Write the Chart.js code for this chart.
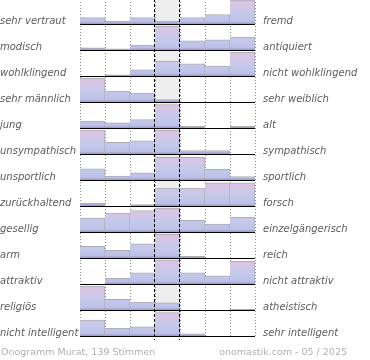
<!DOCTYPE html>
<html>
<head>
<meta charset="utf-8">
<script src="https://cdn.jsdelivr.net/npm/chart.js@4/dist/chart.umd.min.js"></script>
<style>
    html, body { margin: 0; padding: 0; background: #fff; }
    #wrap { position: relative; width: 370px; height: 360px; overflow: hidden; }
    #onogramm { position: absolute; left: 0; top: -1px; }
    .foot { position: absolute; top: 346px; font: 9.5px 'DejaVu Sans', sans-serif; color: #b0b0b0; white-space: nowrap; }
</style>
</head>
<body>
<div id="wrap">
    <canvas id="onogramm" width="370" height="360"></canvas>
    <div class="foot" id="footLeft" style="left:1px"></div>
    <div class="foot" id="footRight" style="right:23px"></div>
</div>
<script>
// Onogramm data: one row per word pair, seven answer steps per row
const leftLabels = ['sehr vertraut', 'modisch', 'wohlklingend', 'sehr männlich', 'jung', 'unsympathisch',
    'unsportlich', 'zurückhaltend', 'gesellig', 'arm', 'attraktiv', 'religiös', 'nicht intelligent'];
const rightLabels = ['fremd', 'antiquiert', 'nicht wohlklingend', 'sehr weiblich', 'alt', 'sympathisch',
    'sportlich', 'forsch', 'einzelgängerisch', 'reich', 'nicht attraktiv', 'atheistisch', 'sehr intelligent'];
const steps = ['1', '2', '3', '4', '5', '6', '7'];

// bar heights in percent of the row
const shares = [
    [30, 16, 30, 16, 30, 42, 100],
    [13, 9, 24, 100, 41, 45, 56],
    [0, 9, 29, 63, 53, 44, 100],
    [100, 48, 40, 14, 0, 0, 4],
    [32, 25, 38, 98, 11, 0, 11],
    [100, 51, 57, 100, 18, 18, 0],
    [49, 20, 33, 95, 95, 47, 18],
    [16, 0, 10, 76, 76, 97, 97],
    [60, 80, 90, 100, 51, 36, 63],
    [51, 35, 61, 100, 11, 0, 0],
    [0, 27, 49, 100, 49, 37, 95],
    [100, 47, 36, 33, 0, 0, 7],
    [68, 35, 41, 98, 13, 0, 0]
];

const footLeftText = 'Onogramm Murat, 139 Stimmen';
const footRightText = 'onomastik.com - 05 / 2025';

const BAR_FRACTION = 0.96;
const LABEL_FONT = { family: "'DejaVu Sans', sans-serif", size: 10, style: 'italic' };

document.getElementById('footLeft').textContent = footLeftText;
document.getElementById('footRight').textContent = footRightText;

/**
 * Gradient spanning one row, pink at top, lavender in the middle, purple at the base
 */
function rowGradient(chart, row) {
    const { ctx, scales } = chart;
    const top = scales.y.getPixelForValue(row);
    const bottom = scales.y.getPixelForValue(row + 1);
    if (!isFinite(top) || !isFinite(bottom)) return '#c4c9ea';
    const g = ctx.createLinearGradient(0, top, 0, bottom);
    g.addColorStop(0, '#dfc2e2');
    g.addColorStop(0.25, '#d6c5e6');
    g.addColorStop(0.55, '#c4caea');
    g.addColorStop(0.86, '#bec1e8');
    g.addColorStop(1, '#8f86c2');
    return g;
}

/**
 * Keep the plot area flush with the canvas edges
 */
function noAxisPadding(axis) {
    axis.paddingTop = 0;
    axis.paddingBottom = 0;
    axis.paddingLeft = 0;
    axis.paddingRight = 0;
}

// center column background, baselines and dashed center lines
const onogrammDecor = {
    id: 'onogrammDecor',
    beforeDraw(chart) {
        const { ctx, chartArea, scales } = chart;
        const colW = (chartArea.right - chartArea.left) / steps.length;
        const cx = scales.x.getPixelForValue(3);
        ctx.save();
        ctx.fillStyle = '#eeeeee';
        ctx.fillRect(cx - colW / 2, chartArea.top, colW, chartArea.bottom - chartArea.top);
        ctx.restore();
    },
    afterDatasetsDraw(chart) {
        const { ctx, chartArea, scales } = chart;
        const colW = (chartArea.right - chartArea.left) / steps.length;
        const cx = scales.x.getPixelForValue(3);
        ctx.save();
        // row baselines
        ctx.strokeStyle = '#000';
        ctx.lineWidth = 1;
        shares.forEach((_, i) => {
            const y = Math.round(scales.y.getPixelForValue(i + 1)) - 0.5;
            ctx.beginPath();
            ctx.moveTo(chartArea.left, y);
            ctx.lineTo(chartArea.right, y);
            ctx.stroke();
        });
        // dashed borders of the neutral column
        ctx.setLineDash([3, 2]);
        [cx - colW / 2, cx + colW / 2].forEach(x => {
            const px = Math.round(x) - 0.5;
            ctx.beginPath();
            ctx.moveTo(px, chartArea.top);
            ctx.lineTo(px, chartArea.bottom + 3);
            ctx.stroke();
        });
        ctx.restore();
    }
};

const datasets = shares.map((row, r) => ({
    label: leftLabels[r],
    data: row.map(v => (v > 0 ? [r + 1 - v / 100 * BAR_FRACTION, r + 1] : null)),
    backgroundColor: ctx => rowGradient(ctx.chart, r),
    borderColor: '#adadb5',
    borderWidth: { top: 1, right: 1, bottom: 0, left: 0 },
    borderSkipped: false,
    grouped: false,
    barPercentage: 1,
    categoryPercentage: 1
}));

new Chart(document.getElementById('onogramm'), {
    type: 'bar',
    data: { labels: steps, datasets: datasets },
    options: {
        responsive: false,
        animation: false,
        layout: { padding: { top: 0, bottom: 22, left: 0, right: 0 } },
        plugins: {
            legend: { display: false },
            tooltip: { enabled: false }
        },
        scales: {
            x: {
                offset: true,
                grid: {
                    offset: true,
                    drawTicks: false,
                    color: '#8a8a8a',
                    lineWidth: 1
                },
                border: { display: false, dash: [1, 2] },
                ticks: { display: false },
                afterFit: noAxisPadding
            },
            y: {
                position: 'left',
                reverse: true,
                min: 0,
                max: shares.length,
                grid: { display: false, drawTicks: false },
                border: { display: false },
                afterBuildTicks: axis => {
                    axis.ticks = leftLabels.map((_, i) => ({ value: i + 0.85 }));
                },
                afterFit: axis => { axis.width = 80; noAxisPadding(axis); },
                ticks: {
                    autoSkip: false,
                    crossAlign: 'far',
                    padding: 0,
                    color: '#5c5c5c',
                    font: LABEL_FONT,
                    callback: (value, index) => leftLabels[index]
                }
            },
            y2: {
                position: 'right',
                reverse: true,
                min: 0,
                max: shares.length,
                grid: { display: false, drawTicks: false },
                border: { display: false },
                afterBuildTicks: axis => {
                    axis.ticks = rightLabels.map((_, i) => ({ value: i + 0.85 }));
                },
                afterFit: axis => { axis.width = 115; noAxisPadding(axis); },
                ticks: {
                    autoSkip: false,
                    padding: 8,
                    color: '#5c5c5c',
                    font: LABEL_FONT,
                    callback: (value, index) => rightLabels[index]
                }
            }
        }
    },
    plugins: [onogrammDecor]
});
</script>
</body>
</html>
